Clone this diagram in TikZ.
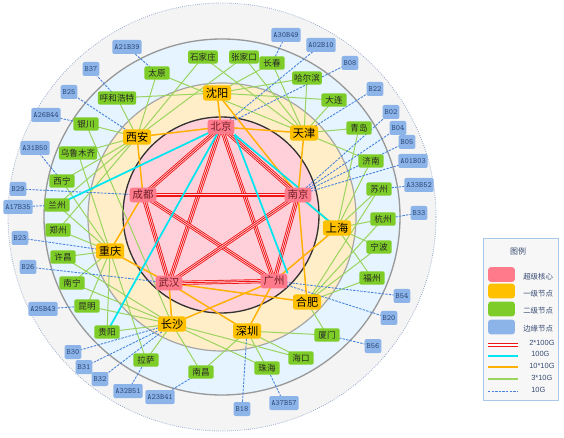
\documentclass[tikz,border=0pt]{standalone}
\usepackage{fontspec}
\setmainfont{Liberation Sans}
\newfontfamily\cjk{Noto Sans CJK SC}
\pgfdeclarelayer{bg}
\pgfdeclarelayer{links}
\pgfsetlayers{bg,links,main}
\definecolor{corefill}{RGB}{255,122,138}
\definecolor{corefg}{RGB}{110,30,40}
\definecolor{onefill}{RGB}{255,192,0}
\definecolor{twofill}{RGB}{126,204,40}
\definecolor{edgefill}{RGB}{141,180,232}
\definecolor{edgefg}{RGB}{45,75,125}
\definecolor{ringA}{RGB}{244,244,244}
\definecolor{ringAedge}{RGB}{150,170,205}
\definecolor{ringB}{RGB}{229,244,255}
\definecolor{ringC}{RGB}{255,238,200}
\definecolor{ringD}{RGB}{255,208,218}
\definecolor{lnred}{RGB}{240,20,20}
\definecolor{lnpale}{RGB}{255,215,222}
\definecolor{lncyan}{RGB}{0,230,240}
\definecolor{lnorange}{RGB}{255,176,0}
\definecolor{lngreen}{RGB}{155,212,95}
\definecolor{lnblue}{RGB}{70,130,220}
\definecolor{legfg}{RGB}{55,75,115}
\definecolor{legedge}{RGB}{170,200,235}
\begin{document}
\begin{tikzpicture}[x=0.75pt,y=-0.75pt,
  core/.style={rounded corners=2pt, fill=corefill, text=corefg, font=\cjk\fontsize{7.8}{8}\selectfont, minimum width=20pt, minimum height=11pt, inner sep=1pt},
  first/.style={rounded corners=2pt, fill=onefill, text=black, font=\cjk\fontsize{8.4}{9}\selectfont, minimum width=21pt, minimum height=11.5pt, inner sep=1pt},
  second/.style={rounded corners=1.5pt, fill=twofill, text=black!85, font=\cjk\fontsize{6.4}{7}\selectfont, minimum width=19pt, minimum height=10pt, inner xsep=1.5pt, inner ysep=1pt},
  edgebox/.style={rounded corners=1.5pt, fill=edgefill, text=edgefg, font=\ttfamily\fontsize{6}{7}\selectfont, minimum width=12pt, minimum height=10.5pt, inner xsep=1.5pt, inner ysep=1pt},
  swatch/.style={rounded corners=2pt, minimum width=20pt, minimum height=11pt, inner sep=0pt},
  legtext/.style={anchor=west, text=legfg, font=\cjk\fontsize{5.6}{6}\selectfont, inner sep=0pt},
  leglab/.style={anchor=west, text=legfg, font=\fontsize{5.6}{6}\selectfont, inner sep=0pt},
  lgreen/.style={draw=lngreen, line width=0.75pt},
  lorange/.style={draw=lnorange, line width=1.1pt},
  lcyan/.style={draw=lncyan, line width=1.3pt},
  lblue/.style={draw=lnblue, line width=0.65pt, dash pattern=on 1.8pt off 0.9pt},
  redouter/.style={draw=lnred, line width=3.1pt},
  redmid/.style={draw=lnpale, line width=1.8pt},
  redin/.style={draw=lnred, line width=0.65pt}
]
\useasboundingbox (0,0) rectangle (564,438);
\begin{pgfonlayer}{bg}
\fill[white] (0,0) rectangle (564,438);
\filldraw[fill=ringA, draw=ringAedge, densely dotted, line width=0.6pt] (222,217) circle[radius=160.5pt];
\filldraw[fill=ringB, draw=gray!80, line width=1pt] (222,217) circle[radius=133.5pt];
\filldraw[fill=ringC, draw=gray!70, line width=0.9pt] (222,217) circle[radius=100.5pt];
\filldraw[fill=ringD, draw=black!80, line width=1pt] (221,215) circle[radius=73.5pt];
\end{pgfonlayer}

% core nodes
\node[core] (bj) at (221,127) {北京};
\node[core] (nj) at (298,195) {南京};
\node[core] (gz) at (274,281) {广州};
\node[core] (wh) at (169,283) {武汉};
\node[core] (cd) at (143,195) {成都};
% first level
\node[first] (sy) at (217,93) {沈阳};
\node[first] (tj) at (304,133) {天津};
\node[first] (xa) at (137,137) {西安};
\node[first] (sh) at (337,228) {上海};
\node[first] (cq) at (110,251) {重庆};
\node[first] (hf) at (307,302) {合肥};
\node[first] (sz) at (247,331) {深圳};
\node[first] (cs) at (172,324) {长沙};
% second level
\node[second] (ty) at (157,73) {太原};
\node[second] (sjz) at (203,57) {石家庄};
\node[second] (zjk) at (244,57) {张家口};
\node[second] (cc) at (272,63) {长春};
\node[second] (heb) at (307,78) {哈尔滨};
\node[second] (dl) at (334,100) {大连};
\node[second] (qd) at (359,128) {青岛};
\node[second] (jn) at (371,161) {济南};
\node[second] (suz) at (379,189) {苏州};
\node[second] (hz) at (383,219) {杭州};
\node[second] (nb) at (379,247) {宁波};
\node[second] (fz) at (372,278) {福州};
\node[second] (xm) at (327,335) {厦门};
\node[second] (hk) at (301,358) {海口};
\node[second] (zh) at (267,368) {珠海};
\node[second] (nc) at (201,372) {南昌};
\node[second] (ls) at (146,360) {拉萨};
\node[second] (gy) at (107,332) {贵阳};
\node[second] (km) at (87,306) {昆明};
\node[second] (nn) at (72,283) {南宁};
\node[second] (xc) at (63,257) {许昌};
\node[second] (zz) at (58,230) {郑州};
\node[second] (lz) at (57,205) {兰州};
\node[second] (xn) at (62,181) {西宁};
\node[second] (wlmq) at (78,153) {乌鲁木齐};
\node[second] (yc) at (86,124) {银川};
\node[second] (hhht) at (117,98) {呼和浩特};
% edge nodes
\node[edgebox] (e1) at (127,47) {A21B39};
\node[edgebox] (e2) at (91,69) {B37};
\node[edgebox] (e3) at (69,92) {B25};
\node[edgebox] (e4) at (46,115) {A26B44};
\node[edgebox] (e5) at (35,148) {A31B50};
\node[edgebox] (e6) at (18,189) {B29};
\node[edgebox] (e7) at (18,207) {A17B35};
\node[edgebox] (e8) at (20,238) {B23};
\node[edgebox] (e9) at (28,267) {B26};
\node[edgebox] (e10) at (43,309) {A25B43};
\node[edgebox] (e11) at (73,352) {B30};
\node[edgebox] (e12) at (84,367) {B31};
\node[edgebox] (e13) at (100,379) {B32};
\node[edgebox] (e14) at (128,391) {A32B51};
\node[edgebox] (e15) at (160,397) {A23B41};
\node[edgebox] (e16) at (242,409) {B18};
\node[edgebox] (e17) at (284,403) {A37B57};
\node[edgebox] (e18) at (373,346) {B56};
\node[edgebox] (e19) at (389,318) {B20};
\node[edgebox] (e20) at (402,296) {B54};
\node[edgebox] (e21) at (419,213) {B33};
\node[edgebox] (e22) at (419,185) {A33B52};
\node[edgebox] (e23) at (413,161) {A01B03};
\node[edgebox] (e24) at (407,142) {B05};
\node[edgebox] (e25) at (398,128) {B04};
\node[edgebox] (e26) at (391,112) {B02};
\node[edgebox] (e27) at (375,89) {B22};
\node[edgebox] (e28) at (350,63) {B08};
\node[edgebox] (e29) at (321,45) {A02B10};
\node[edgebox] (e30) at (286,35) {A30B49};

\begin{pgfonlayer}{links}
\foreach \a/\b in {hhht/xa,hhht/sy,ty/xa,ty/tj,sjz/xa,sjz/tj,zjk/xa,zjk/tj,cc/sy,cc/tj,heb/sy,heb/tj,dl/sy,dl/tj,qd/tj,qd/sh,jn/tj,jn/sh,suz/sh,suz/hf,hz/sh,hz/hf,nb/sh,nb/hf,fz/sh,fz/hf,xm/hf,xm/sz,hk/sz,hk/cs,zh/sz,zh/cs,nc/sz,nc/cs,ls/cs,ls/cq,gy/cs,gy/cq,km/cs,km/cq,nn/cs,nn/cq,xc/cq,xc/cs,zz/cq,zz/xa,lz/xa,lz/cq,xn/xa,xn/cq,wlmq/xa,wlmq/cq,yc/xa,yc/cs}
  \draw[lgreen] (\a.center) -- (\b.center);
\foreach \a/\b in {e1/ty,e2/hhht,e3/xa,e4/yc,e5/xn,e6/cd,e7/lz,e8/cq,e9/wh,e10/km,e11/cs,e12/cs,e13/cs,e14/ls,e15/nc,e16/sz,e17/zh,e18/xm,e19/gz,e20/gz,e21/hz,e22/suz,e23/nj,e24/nj,e25/nj,e26/nj,e27/tj,e28/bj,e29/bj,e30/cc}
  \draw[lblue] (\a.center) -- (\b.center);
\foreach \a/\b in {sy/bj,sy/nj,bj/tj,tj/nj,bj/xa,xa/cd,cd/cq,cq/wh,wh/cs,cs/gz,wh/hf,wh/sz,gz/sz,nj/sh,nj/hf,sh/gz}
  \draw[lorange] (\a.center) -- (\b.center);
\foreach \a/\b in {bj/nj,bj/gz,bj/wh,bj/cd,cd/nj,cd/gz,cd/wh,nj/gz,nj/wh,wh/gz}{
  \draw[redouter] (\a.center) -- (\b.center);
  \draw[redmid] (\a.center) -- (\b.center);
  \draw[redin] (\a.center) -- (\b.center);
}
\draw[lcyan] (bj.south east) -- (nj.north);
\draw[lcyan] (bj.south east) -- (gz.north east);
\foreach \a/\b in {bj/gy,bj/lz,nj/sh}
  \draw[lcyan] (\a.center) -- (\b.center);
\end{pgfonlayer}

% legend
\filldraw[fill=black!3, draw=legedge, line width=0.6pt] (483,238) rectangle (558,400);
\node[text=legfg, font=\cjk\fontsize{6}{7}\selectfont] (lgt) at (518,251) {图例};
\node[swatch, fill=corefill] (ls1) at (501.5,274.5) {};
\node[swatch, fill=onefill] (ls2) at (501.5,291) {};
\node[swatch, fill=twofill] (ls3) at (501.5,309) {};
\node[swatch, fill=edgefill] (ls4) at (501.5,327) {};
\node[legtext] (lt1) at (523,277) {超级核心};
\node[legtext] (lt2) at (523,294) {一级节点};
\node[legtext] (lt3) at (523,311) {二级节点};
\node[legtext] (lt4) at (523,329) {边缘节点};
\draw[draw=lnred, line width=2.4pt] (488,345) -- (518,345);
\draw[draw=white, line width=0.8pt] (488,345) -- (518,345);
\draw[lcyan, line width=1pt] (488,356) -- (518,356);
\draw[lorange, line width=1pt] (488,367) -- (518,367);
\draw[lgreen, line width=1pt] (488,379) -- (518,379);
\draw[lblue] (488,391) -- (518,391);
\node[leglab] (ll1) at (529,343) {2*100G};
\node[leglab] (ll2) at (531,354) {100G};
\node[leglab] (ll3) at (529,366) {10*10G};
\node[leglab] (ll4) at (531,378) {3*10G};
\node[leglab] (ll5) at (531,390) {10G};
\end{tikzpicture}
\end{document}
